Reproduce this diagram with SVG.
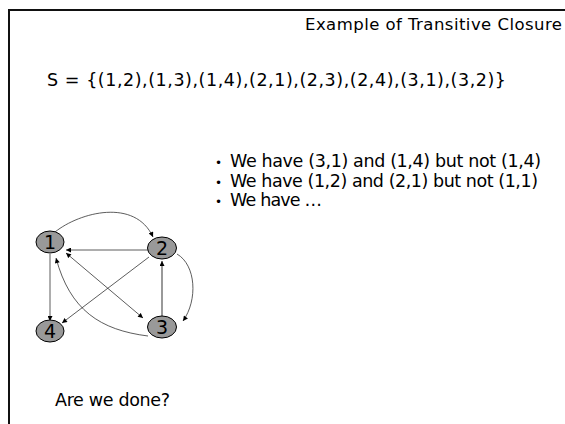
<svg xmlns="http://www.w3.org/2000/svg" width="565" height="424" viewBox="0 0 565 424">
<style>
  .txt { font-family: "DejaVu Sans", "Liberation Sans", sans-serif; fill: #000; }
  .node ellipse { fill: #999; stroke: #000; stroke-width: 1; }
  .node text { font-family: "DejaVu Sans", "Liberation Sans", sans-serif; font-size: 19px; text-anchor: middle; fill: #000; }
  .edge { fill: none; stroke: #333; stroke-width: 0.8; }
  .edge.gray { stroke: #999; stroke-width: 2; }
</style>
<defs>
  <marker id="ah" viewBox="0 0 10 10" refX="10" refY="5" markerWidth="6" markerHeight="5" markerUnits="userSpaceOnUse" orient="auto-start-reverse">
    <path d="M0,0 L10,5 L0,10 Z" fill="#000"/>
  </marker>
</defs>
<rect x="0" y="0" width="565" height="424" fill="#fff"/>
<g id="frame">
  <line x1="9" y1="10" x2="565" y2="10" stroke="#111" stroke-width="2"/>
  <line x1="9" y1="9" x2="9" y2="424" stroke="#111" stroke-width="2"/>
</g>
<g id="texts">
  <text class="txt" x="305" y="30" font-size="16.5" textLength="257">Example of Transitive Closure</text>
  <text class="txt" x="47" y="86" font-size="17.5" textLength="459">S = {(1,2),(1,3),(1,4),(2,1),(2,3),(2,4),(3,1),(3,2)}</text>
  <text class="txt" x="215" y="167" font-size="12">•</text>
  <text class="txt" x="230" y="167" font-size="17.5" textLength="311">We have (3,1) and (1,4) but not (1,4)</text>
  <text class="txt" x="215" y="187" font-size="12">•</text>
  <text class="txt" x="230" y="187" font-size="17.5" textLength="308">We have (1,2) and (2,1) but not (1,1)</text>
  <text class="txt" x="215" y="206" font-size="12">•</text>
  <text class="txt" x="230" y="206" font-size="17.5" textLength="92">We have …</text>
  <text class="txt" x="55" y="406" font-size="17.5" textLength="115">Are we done?</text>
</g>
<g id="connectors">
  <path class="edge" d="M55,232 C80,212 135,198 153,237" marker-end="url(#ah)"/>
  <path class="edge" d="M148,250 L66,250" marker-end="url(#ah)"/>
  <path class="edge" d="M50,254 L50,321" marker-end="url(#ah)"/>
  <path class="edge" d="M66,253 L143,318" marker-start="url(#ah)" marker-end="url(#ah)"/>
  <path class="edge" d="M149,257 L62,323" marker-end="url(#ah)"/>
  <path class="edge gray" d="M162,316 L162,261" marker-end="url(#ah)"/>
  <path class="edge" d="M177,254 C196,265 198,300 183,321" marker-end="url(#ah)"/>
  <path class="edge" d="M148,336 C100,330 70,310 56,258" marker-end="url(#ah)"/>
</g>
<g id="node1" class="node"><ellipse cx="50" cy="242" rx="14" ry="11"/><text x="50" y="249">1</text></g>
<g id="node2" class="node"><ellipse cx="162" cy="248" rx="14.5" ry="11"/><text x="162" y="255">2</text></g>
<g id="node3" class="node"><ellipse cx="162" cy="327" rx="14.5" ry="11"/><text x="162" y="334">3</text></g>
<g id="node4" class="node"><ellipse cx="50" cy="331" rx="14" ry="11"/><text x="50" y="338">4</text></g>
</svg>
